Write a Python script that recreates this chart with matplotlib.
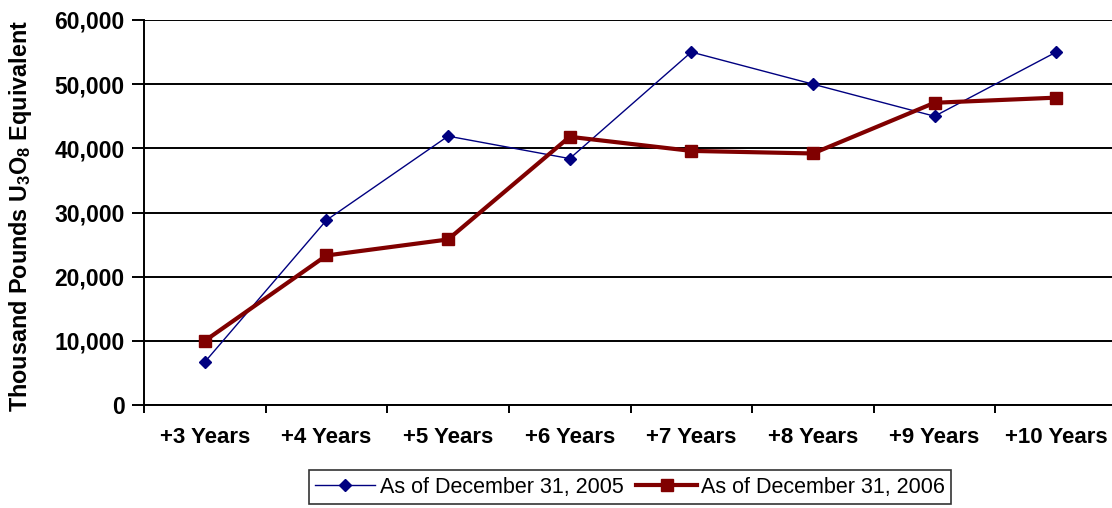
import numpy as np
import matplotlib
matplotlib.use("Agg")
import matplotlib.pyplot as plt

categories = ["+3 Years", "+4 Years", "+5 Years", "+6 Years",
              "+7 Years", "+8 Years", "+9 Years", "+10 Years"]
series_2005 = [6700, 28800, 41900, 38400, 55000, 50000, 45000, 55000]
series_2006 = [10000, 23300, 25800, 41800, 39600, 39200, 47100, 47900]
label_2005 = "As of December 31, 2005"
label_2006 = "As of December 31, 2006"
y_ticks = [0, 10000, 20000, 30000, 40000, 50000, 60000]

plt.rcParams['font.family'] = ['Liberation Sans', 'DejaVu Sans']
plt.rcParams['mathtext.fontset'] = 'custom'
plt.rcParams['mathtext.rm'] = 'Liberation Sans:bold'
plt.rcParams['mathtext.it'] = 'Liberation Sans:bold'
plt.rcParams['mathtext.bf'] = 'Liberation Sans:bold'

fig = plt.figure(figsize=(11.12, 5.08), dpi=100)
ax = fig.add_axes([144/1112, 1 - 405/508, 973/1112, 385/508])

x = np.arange(len(categories))
ax.plot(x, series_2005, color='#000080', lw=1.0, marker='D', ms=6,
        label=label_2005, zorder=3)
ax.plot(x, series_2006, color='#800000', lw=3.0, marker='s', ms=8,
        label=label_2006, zorder=4)

ax.set_xlim(-0.5, len(categories) - 0.5)
ax.set_ylim(0, 60000)
ax.set_yticks(y_ticks)
ax.set_yticklabels([f"{v:,}" for v in y_ticks], fontsize=16.5, fontweight='bold')
ax.yaxis.grid(True, color='black', lw=1.4)
ax.set_axisbelow(True)

ax.set_xticks(np.arange(-0.5, len(categories), 1.0))
ax.set_xticklabels([])
ax.set_xticks(x, minor=True)
ax.set_xticklabels(categories, minor=True, fontsize=16, fontweight='bold')
ax.tick_params(axis='x', which='major', length=6, width=1.4, direction='out')
ax.tick_params(axis='x', which='minor', length=0, pad=16)
ax.tick_params(axis='y', which='major', length=9, width=1.4, direction='out', pad=5)

for s in ['top', 'right']:
    ax.spines[s].set_visible(False)
for s in ['left', 'bottom']:
    ax.spines[s].set_linewidth(1.4)
    ax.spines[s].set_color('black')

ax.set_ylabel(r"Thousand Pounds U$_3$O$_8$ Equivalent", fontsize=16.8, fontweight='bold')
ax.yaxis.set_label_coords(-110/973, 0.49)

leg = fig.legend(loc='center', bbox_to_anchor=(630/1112, 1 - 487/508), ncol=2,
                 fontsize=15.5, frameon=True, fancybox=False, edgecolor='black',
                 handlelength=2.8, handletextpad=0.2, columnspacing=0.6,
                 borderpad=0.3)
leg.get_frame().set_linewidth(1.2)

fig.savefig("out.png", dpi=100)
